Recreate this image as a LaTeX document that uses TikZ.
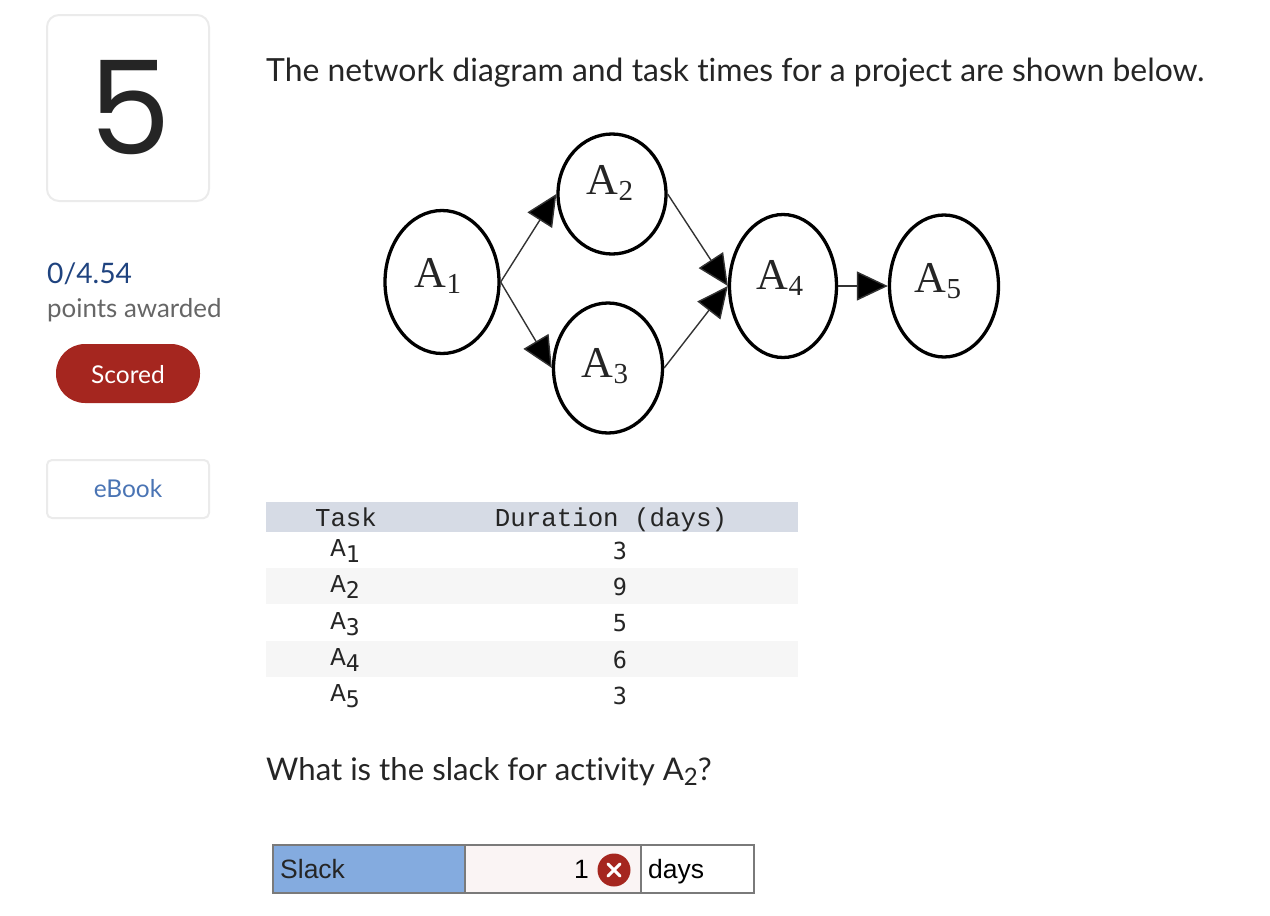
\documentclass[tikz,border=0pt]{standalone}
\usepackage{fontspec}
\setmainfont[Ligatures=NoCommon]{Lato}
\newfontfamily\numfont{Poppins}
\newfontfamily\timesfont{Liberation Serif}
\newfontfamily\courfont{Liberation Mono}
\newfontfamily\menlofont{DejaVu Sans Mono}
\newfontfamily\arialfont{Liberation Sans}
\usetikzlibrary{arrows.meta,shapes.geometric}
\definecolor{scoredred}{HTML}{A5261F}
\definecolor{cardline}{HTML}{EBEBEB}
\definecolor{headgray}{HTML}{D6DBE5}
\definecolor{rowgray}{HTML}{F6F6F6}
\definecolor{slackblue}{HTML}{84ABDF}
\definecolor{answerpink}{HTML}{FAF4F4}
\definecolor{ink}{HTML}{252525}
% digit, lift, shift to the left (twice the distance)
\newcommand{\actlabel}[3]{\raisebox{#2}{\hspace*{-#3}\fontsize{44}{44}\selectfont A\raisebox{-6pt}{\fontsize{29}{29}\selectfont #1}}}
\newcommand{\tasklabel}[1]{{\courfont\fontsize{25.8}{26}\selectfont A}\raisebox{-6pt}{\menlofont\fontsize{23}{24}\selectfont #1}}
\tikzset{
activity/.style={ellipse, draw, line width=3.3pt, inner sep=0pt, text=ink, font=\timesfont},
link/.style={line width=1.4pt, draw=black!80, -{Triangle[length=31pt,width=29pt,fill=black]}},
pagetext/.style={anchor=base west, inner sep=0pt, text=ink, font=\fontsize{31.9}{36}\selectfont},
hdr/.style={anchor=base, inner sep=0pt, text=ink, font=\courfont\fontsize{25.8}{26}\selectfont},
dur/.style={anchor=base, inner sep=0pt, text=ink, font=\menlofont\fontsize{23.5}{24}\selectfont},
task/.style={anchor=base, inner sep=0pt, text=ink},
slack/.style={anchor=base west, inner sep=0pt, font=\arialfont\fontsize{26.5}{28}\selectfont}
}
\begin{document}
\begin{tikzpicture}[x=1pt, y=-1pt]
\useasboundingbox (0,0) rectangle (1270,916);
% left column
\draw [cardline, line width=2pt, rounded corners=12pt] (47,15) rectangle (209,201);
\node (number) at (130,154) [anchor=base, inner sep=0pt, text=ink, font=\numfont\fontsize{130}{140}\selectfont] {5};
\node (points) at (47,283) [anchor=base west, inner sep=0pt, text={rgb,255:red,31;green,67;blue,127}, font=\fontsize{28.2}{30}\selectfont] {0/4.54};
\node (awarded) at (47,317) [anchor=base west, inner sep=0pt, text=black!60, font=\fontsize{25.9}{28}\selectfont] {points awarded};
\fill [scoredred, rounded corners=29pt] (56,344) rectangle (200,403);
\node (scored) at (128,383) [anchor=base, inner sep=0pt, text=white, font=\fontsize{24.5}{26}\selectfont] {Scored};
\draw [cardline, line width=2pt, rounded corners=5pt] (47,460) rectangle (209,518);
\node (ebook) at (128,497) [anchor=base, inner sep=0pt, text={rgb,255:red,74;green,116;blue,180}, font=\fontsize{24.5}{26}\selectfont] {eBook};
% question
\node (question) at (266,81) [pagetext] {The network diagram and task times for a project are shown below.};
% network
\node (A1) at (442,282) [activity, minimum width=114pt, minimum height=143pt] {\actlabel{1}{18pt}{8pt}};
\node (A2) at (612,194) [activity, minimum width=108pt, minimum height=120pt] {\actlabel{2}{29pt}{4pt}};
\node (A3) at (608,368) [activity, minimum width=109pt, minimum height=130pt] {\actlabel{3}{11pt}{6pt}};
\node (A4) at (783,286) [activity, minimum width=107pt, minimum height=143pt] {\actlabel{4}{23pt}{6pt}};
\node (A5) at (944,286) [activity, minimum width=109pt, minimum height=142pt] {\actlabel{5}{16pt}{12pt}};
\draw [link] (A1.east) -- (A2.west);
\draw [link] (A1.east) -- (A3.west);
\draw [link] (A2.east) -- (A4.west);
\draw [link] (A3.east) -- (A4.west);
\draw [link] (A4.east) -- (A5.west);
% task table
\fill [headgray] (266,502) rectangle (798,532);
\fill [rowgray] (266,568) rectangle (798,604);
\fill [rowgray] (266,641) rectangle (798,677);
\node (taskhead) at (346,526) [hdr] {Task};
\node (durhead) at (611,526) [hdr] {Duration (days)};
\node (task1) at (345,556) [task] {\tasklabel{1}};
\node (task2) at (345,592) [task] {\tasklabel{2}};
\node (task3) at (345,629) [task] {\tasklabel{3}};
\node (task4) at (345,665) [task] {\tasklabel{4}};
\node (task5) at (345,701) [task] {\tasklabel{5}};
\node (dur1) at (620,559) [dur] {3};
\node (dur2) at (620,595) [dur] {9};
\node (dur3) at (620,631) [dur] {5};
\node (dur4) at (620,668) [dur] {6};
\node (dur5) at (620,704) [dur] {3};
\node (ask) at (266,780) [pagetext, font=\fontsize{31.2}{36}\selectfont] {What is the slack for activity A\raisebox{-5pt}{\fontsize{24}{24}\selectfont 2}?};
% answer row
\fill [slackblue] (273,845) rectangle (465,893);
\fill [answerpink] (465,845) rectangle (641,893);
\draw [black!52, line width=2pt] (273,845) rectangle (754,893) (465,845) -- (465,893) (641,845) -- (641,893);
\node (slackname) at (280,878) [slack, text=ink] {Slack};
\node (answer) at (589,878) [slack, anchor=base east, text=black] {1};
\node (wrong) at (614,870) [circle, fill=scoredred, minimum size=33pt, inner sep=0pt] {};
\draw [white, line width=3pt, line cap=round] (608,864) -- (620,876) (620,864) -- (608,876);
\node (days) at (648,878) [slack, text=black] {days};
\end{tikzpicture}
\end{document}
